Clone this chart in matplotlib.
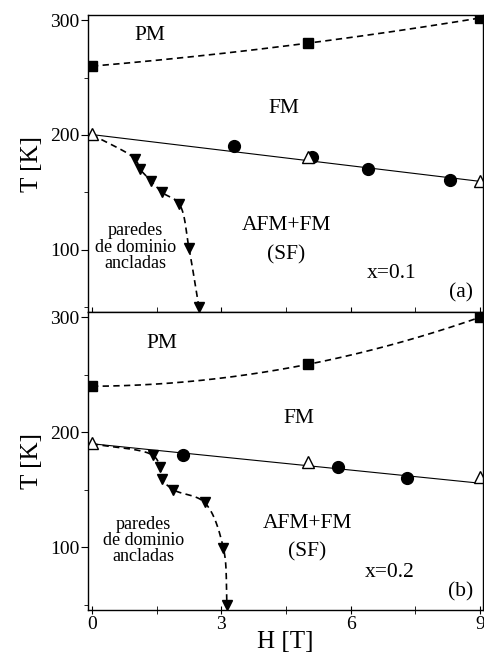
import numpy as np
import matplotlib.pyplot as plt
from matplotlib.ticker import MultipleLocator

plt.rcParams['font.family'] = ['Liberation Serif', 'DejaVu Serif']

# x = 0.1 panel (a)
a_sq_h = [0, 5, 9]
a_sq_t = [260, 280, 302]
a_circ_h = [3.3, 5.1, 6.4, 8.3]
a_circ_t = [190, 181, 170, 160.5]
a_tri_h = [0, 5, 9]
a_tri_t = [201, 181, 160]
a_dn_h = [1.0, 1.12, 1.37, 1.62, 2.02, 2.25, 2.48]
a_dn_t = [179, 170, 160, 150, 140, 101, 50]
a_line_h = [0, 9]
a_line_t = [200.3, 159.5]

# x = 0.2 panel (b)
b_sq_h = [0, 5, 9]
b_sq_t = [240, 259, 300]
b_circ_h = [2.1, 5.7, 7.3]
b_circ_t = [180, 170, 160]
b_tri_h = [0, 5, 9]
b_tri_t = [191, 174, 161]
b_dn_h = [1.41, 1.58, 1.62, 1.89, 2.61, 3.05, 3.13]
b_dn_t = [180, 170, 159.5, 150, 139, 99, 50]
b_line_h = [0, 9]
b_line_t = [190, 155.7]


def catmull(px, py, n=30):
    # centripetal Catmull-Rom, done in roughly-pixel units
    sx, sy = 37.5, 1.0
    P = np.column_stack([np.array(px) * sx, np.array(py) * sy])
    P = np.vstack([2 * P[0] - P[1], P, 2 * P[-1] - P[-2]])
    out = []
    for i in range(1, len(P) - 2):
        p0, p1, p2, p3 = P[i - 1], P[i], P[i + 1], P[i + 2]
        t0 = 0
        t1 = t0 + np.linalg.norm(p1 - p0) ** 0.5
        t2 = t1 + np.linalg.norm(p2 - p1) ** 0.5
        t3 = t2 + np.linalg.norm(p3 - p2) ** 0.5
        t = np.linspace(t1, t2, n)[:, None]
        a1 = (t1 - t) / (t1 - t0) * p0 + (t - t0) / (t1 - t0) * p1
        a2 = (t2 - t) / (t2 - t1) * p1 + (t - t1) / (t2 - t1) * p2
        a3 = (t3 - t) / (t3 - t2) * p2 + (t - t2) / (t3 - t2) * p3
        b1 = (t2 - t) / (t2 - t0) * a1 + (t - t0) / (t2 - t0) * a2
        b2 = (t3 - t) / (t3 - t1) * a2 + (t - t1) / (t3 - t1) * a3
        c = (t2 - t) / (t2 - t1) * b1 + (t - t1) / (t2 - t1) * b2
        out.append(c)
    out = np.vstack(out)
    return out[:, 0] / sx, out[:, 1] / sy


def panel(ax, sq_h, sq_t, circ_h, circ_t, tri_h, tri_t, dn_h, dn_t,
          line_h, line_t):
    dash = (0, (3.8, 2.6))
    hh = np.linspace(0, 9, 200)
    # PM / FM boundary
    ax.plot(hh, np.polyval(np.polyfit(sq_h, sq_t, 2), hh), color='black',
            lw=1.2, ls=dash)
    # FM / AFM+FM boundary
    ax.plot(line_h, line_t, color='black', lw=0.8)
    # pinned domain walls
    cx, cy = catmull([line_h[0]] + list(dn_h), [line_t[0]] + list(dn_t))
    ax.plot(cx, cy, color='black', lw=1.2, ls=dash)

    ax.plot(sq_h, sq_t, 's', color='black', ms=7.5)
    ax.plot(circ_h, circ_t, 'o', color='black', ms=8.5)
    ax.plot(tri_h, tri_t, '^', mfc='white', mec='black', mew=1.0, ms=9)
    ax.plot(dn_h, dn_t, 'v', color='black', ms=6.5)

    ax.set_xlim(-0.09, 9.07)
    ax.set_ylim(45.5, 304.5)
    ax.yaxis.set_major_locator(MultipleLocator(100))
    ax.yaxis.set_minor_locator(MultipleLocator(50))
    ax.xaxis.set_major_locator(MultipleLocator(3))
    ax.xaxis.set_minor_locator(MultipleLocator(1.5))
    ax.tick_params(axis='y', which='major', direction='out', length=5,
                   labelsize=14, pad=1)
    ax.tick_params(axis='y', which='minor', direction='out', length=3)
    ax.set_ylabel('T [K]', fontsize=18, labelpad=5)
    for s in ax.spines.values():
        s.set_linewidth(1.0)


fig = plt.figure(figsize=(4.84, 6.57), dpi=100)
ax1 = fig.add_axes([0.182, 0.525, 0.816, 0.452])
ax2 = fig.add_axes([0.182, 0.0716, 0.816, 0.4534])

panel(ax1, a_sq_h, a_sq_t, a_circ_h, a_circ_t, a_tri_h, a_tri_t,
      a_dn_h, a_dn_t, a_line_h, a_line_t)
panel(ax2, b_sq_h, b_sq_t, b_circ_h, b_circ_t, b_tri_h, b_tri_t,
      b_dn_h, b_dn_t, b_line_h, b_line_t)

ax1.tick_params(axis='x', which='both', direction='inout', length=7,
                labelbottom=False)
ax2.tick_params(axis='x', which='both', direction='inout', length=6,
                labelsize=14, pad=1)
ax2.set_xlabel('H [T]', fontsize=18, labelpad=-1)

fs = 15.5
ax1.text(1.35, 287, 'PM', fontsize=fs, ha='center', va='center')
ax1.text(4.45, 223, 'FM', fontsize=fs, ha='center', va='center')
ax1.text(4.5, 121, 'AFM+FM', fontsize=fs, ha='center', va='center')
ax1.text(4.5, 95, '(SF)', fontsize=fs, ha='center', va='center')
ax1.text(1.0, 102, 'paredes\nde dominio\nancladas', fontsize=13,
         ha='center', va='center', linespacing=0.95)
ax1.text(6.95, 79, 'x=0.1', fontsize=fs, ha='center', va='center')
ax1.text(8.55, 62, '(a)', fontsize=fs, ha='center', va='center')

ax2.text(1.63, 277, 'PM', fontsize=fs, ha='center', va='center')
ax2.text(4.8, 212, 'FM', fontsize=fs, ha='center', va='center')
ax2.text(5.0, 121, 'AFM+FM', fontsize=fs, ha='center', va='center')
ax2.text(5.0, 96, '(SF)', fontsize=fs, ha='center', va='center')
ax2.text(1.2, 106, 'paredes\nde dominio\nancladas', fontsize=13,
         ha='center', va='center', linespacing=0.95)
ax2.text(6.9, 78, 'x=0.2', fontsize=fs, ha='center', va='center')
ax2.text(8.55, 61, '(b)', fontsize=fs, ha='center', va='center')

fig.savefig('out.png', dpi=100)
